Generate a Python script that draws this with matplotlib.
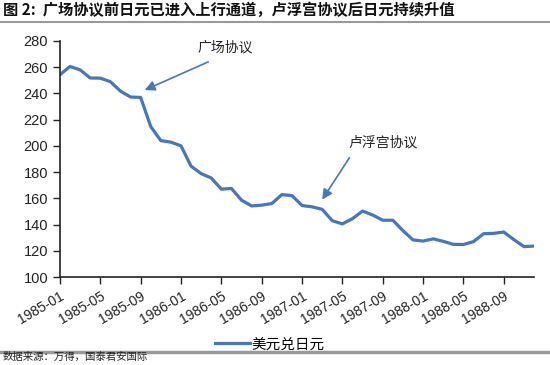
import matplotlib

matplotlib.use("Agg")
import matplotlib.pyplot as plt
from matplotlib.lines import Line2D

plt.rcParams["font.family"] = ["Liberation Sans", "Noto Sans CJK SC"]

# USD/JPY monthly, 1985-01 .. 1988-12
months = [f"{y}-{m:02d}" for y in range(1985, 1989) for m in range(1, 13)]
usdjpy = [254.2, 260.5, 257.9, 251.7, 251.6, 248.9, 241.7, 237.2, 236.9, 214.7, 204.0, 202.8,
          200.0, 184.5, 178.8, 175.5, 167.0, 167.5, 158.6, 154.2, 154.8, 156.0, 162.8, 162.1,
          154.5, 153.5, 151.6, 142.9, 140.5, 144.5, 150.3, 147.3, 143.3, 143.3, 135.4, 128.3,
          127.4, 129.1, 127.2, 124.9, 124.8, 127.0, 133.0, 133.3, 134.3, 128.5, 123.2, 123.6]
tick_labels = months[::4]
blue = "#4676BE"

fig = plt.figure(figsize=(5.5, 3.65), dpi=100)
ax = fig.add_axes([0.109, 0.241, 0.862, 0.647])

x = list(range(len(months)))
ax.plot(x, usdjpy, color=blue, lw=2.3, solid_joinstyle="round", solid_capstyle="round")

ax.set_xlim(0, len(months) - 1)
ax.set_ylim(100, 280)
ax.set_yticks(range(100, 281, 20))
ax.set_xticks(x[::4])
ax.set_xticklabels(tick_labels, rotation=30, ha="right", rotation_mode="anchor")
ax.tick_params(axis="both", direction="out", length=5, width=1, labelsize=10.5, colors="#222222")
ax.tick_params(axis="x", labelsize=10, pad=4)
for s in ["top", "right"]:
    ax.spines[s].set_visible(False)
for s in ["left", "bottom"]:
    ax.spines[s].set_color("#222222")
    ax.spines[s].set_linewidth(1.2)

cjk = ["Noto Sans CJK SC", "DejaVu Sans"]
arrow = dict(arrowstyle="-|>", color=blue, lw=1.2, mutation_scale=15, shrinkA=0, shrinkB=0)

ax.text(16.4, 274.7, "广场协议", fontsize=10, family=cjk, ha="center", va="center", color="#222222")
ax.annotate("", xy=(8.4, 242.5), xytext=(14.7, 264), arrowprops=arrow)

ax.text(28.6, 202.4, "卢浮宫协议", fontsize=10, family=cjk, ha="left", va="center", color="#222222")
ax.annotate("", xy=(26.0, 159), xytext=(28.7, 191), arrowprops=arrow)

# title and frame lines
fig.text(0.006, 0.972, "图 2:  广场协议前日元已进入上行通道，卢浮宫协议后日元持续升值",
         fontsize=11, fontweight="bold", family=cjk, va="center", ha="left", color="#111111")
fig.add_artist(Line2D([0, 1], [0.94, 0.94], color="#999999", lw=1.5))
fig.add_artist(Line2D([0, 1], [0.036, 0.036], color="#999999", lw=2.5))

# legend
leg = ax.legend([Line2D([], [], color=blue, lw=2.3)], ["美元兑日元"], loc="center",
                bbox_to_anchor=(0.49, 0.056), bbox_transform=fig.transFigure,
                frameon=False, prop={"family": cjk, "size": 10.5}, handlelength=2.4, handletextpad=0.1)

fig.text(0.004, 0.022, "数据来源：万得，国泰君安国际", fontsize=7.5, style="italic",
         family=cjk, va="center", ha="left", color="#222222")

fig.savefig("out.png", dpi=100)
